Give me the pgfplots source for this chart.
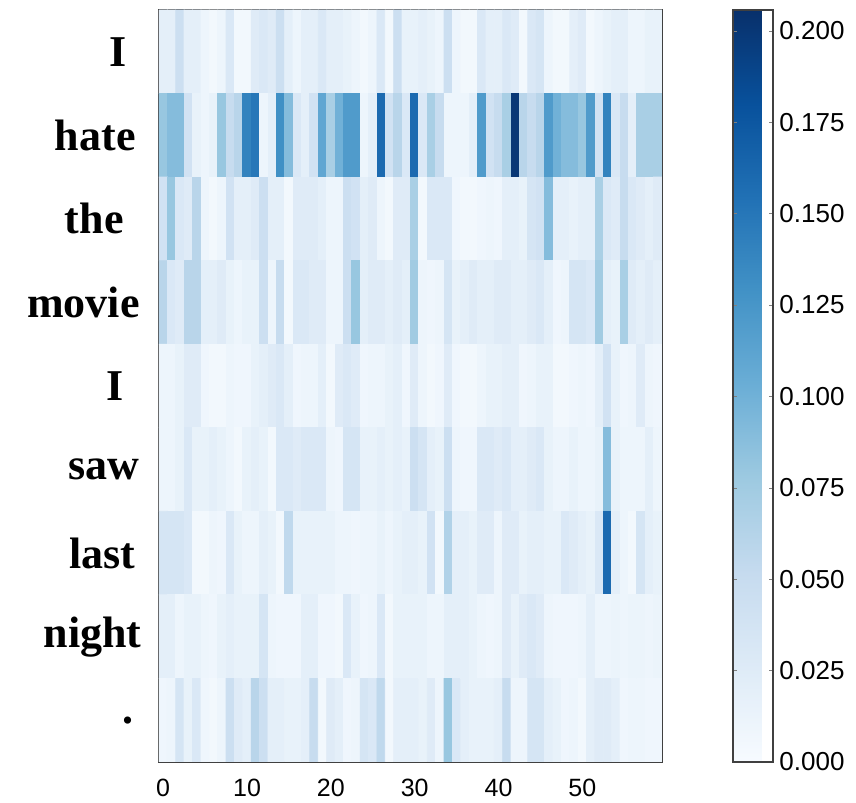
\documentclass[border=0pt]{standalone}
\usepackage{fontspec}
\setmainfont{Liberation Serif}
\newfontfamily\hv{Liberation Sans}
\usepackage{pgfplots}
\pgfplotsset{compat=1.18}
\newcommand{\gap}[1]{\rule{#1}{0pt}}
\begin{document}
\begin{tikzpicture}
\begin{axis}[
  name=main,
  scale only axis, width=251.5pt, height=376pt,
  xmin=-0.5, xmax=59.5, ymin=-0.5, ymax=8.5, y dir=reverse,
  xtick={0,10,20,30,40,50}, ytick={0,1,2,3,4,5,6,7,8},
  yticklabels={I\gap{7.5pt},hate\gap{3pt},the\gap{9pt},movie\gap{1pt},I\gap{9pt},saw\gap{1pt},last\gap{3pt},night,.\gap{4pt}},
  yticklabel style={font=\fontsize{22}{22}\selectfont\bfseries, inner sep=0pt, xshift=-8.5pt},
  xticklabel style={font=\hv\fontsize{12.5}{12.5}\selectfont, /pgf/number format/assume math mode=true, yshift=-5pt},
  tick align=inside, major tick length=3pt, tick style={black!50},
  ytick style={draw=none},
  axis line style={black!75, line width=1pt},
  colormap={blues}{rgb255=(247,251,255) rgb255=(222,235,247) rgb255=(198,219,239) rgb255=(158,202,225) rgb255=(107,174,214) rgb255=(66,146,198) rgb255=(33,113,181) rgb255=(8,81,156) rgb255=(8,48,107)},
  point meta min=0, point meta max=0.2057,
  colorbar,
  colorbar style={at={(parent axis.north east)}, anchor=north west, xshift=27pt, width=20pt,
    ytick={0,0.025,0.05,0.075,0.1,0.125,0.15,0.175,0.2},
    axis line style={black!75, line width=0.8pt},
    major tick length=2pt, tick style={black!50, draw=black!50},
    yticklabel style={font=\hv\fontsize{13}{13}\selectfont, xshift=0pt, inner sep=3pt, /pgf/number format/.cd, fixed, fixed zerofill, precision=3, assume math mode=true}},
]
\addplot[matrix plot*, mesh/cols=60, point meta=explicit] table[header=false, row sep=\\, x expr={\coordindex-60*floor((\coordindex+0.5)/60)}, y expr={floor((\coordindex+0.5)/60)}, meta index=0] {
0.02\\0.02\\0.045\\0.02\\0.02\\0.01\\0.005\\0.01\\0.03\\0.005\\0.005\\0.025\\0.03\\0.025\\0.045\\0.02\\0.01\\0.02\\0.02\\0.03\\0.02\\0.02\\0.015\\0.01\\0.005\\0.01\\0.03\\0.005\\0.045\\0.015\\0.015\\0.02\\0.015\\0.01\\0.045\\0.01\\0.005\\0.005\\0.03\\0.02\\0.02\\0.03\\0.025\\0.005\\0.03\\0.035\\0.01\\0.005\\0.005\\0.02\\0.025\\0.005\\0.01\\0.015\\0.02\\0.02\\0.01\\0.01\\0.015\\0.015\\
0.08\\0.09\\0.09\\0.04\\0.015\\0.01\\0.015\\0.08\\0.05\\0.06\\0.14\\0.15\\0.01\\0.02\\0.13\\0.09\\0.03\\0.02\\0.04\\0.11\\0.07\\0.1\\0.12\\0.12\\0.01\\0.02\\0.16\\0.04\\0.06\\0.03\\0.16\\0.03\\0.07\\0.05\\0.01\\0.01\\0.01\\0.02\\0.12\\0.04\\0.05\\0.07\\0.2\\0.06\\0.05\\0.06\\0.12\\0.1\\0.09\\0.09\\0.08\\0.12\\0.04\\0.14\\0.03\\0.05\\0.02\\0.07\\0.07\\0.07\\
0.04\\0.08\\0.03\\0.025\\0.06\\0.01\\0.005\\0.01\\0.04\\0.02\\0.02\\0.025\\0.045\\0.02\\0.02\\0.005\\0.025\\0.025\\0.025\\0.02\\0.01\\0.01\\0.045\\0.04\\0.02\\0.025\\0.01\\0.005\\0.025\\0.025\\0.07\\0.005\\0.03\\0.03\\0.03\\0.008\\0.005\\0.005\\0.008\\0.01\\0.008\\0.02\\0.02\\0.015\\0.035\\0.04\\0.09\\0.02\\0.02\\0.015\\0.02\\0.02\\0.07\\0.03\\0.025\\0.05\\0.03\\0.025\\0.02\\0.025\\
0.06\\0.03\\0.025\\0.06\\0.06\\0.02\\0.02\\0.025\\0.015\\0.01\\0.015\\0.015\\0.045\\0.01\\0.05\\0.005\\0.03\\0.03\\0.025\\0.025\\0.01\\0.01\\0.045\\0.08\\0.02\\0.025\\0.025\\0.02\\0.025\\0.02\\0.075\\0.01\\0.008\\0.01\\0.035\\0.015\\0.02\\0.025\\0.02\\0.02\\0.025\\0.025\\0.02\\0.02\\0.025\\0.03\\0.02\\0.008\\0.01\\0.035\\0.035\\0.03\\0.075\\0.02\\0.015\\0.07\\0.025\\0.02\\0.025\\0.02\\
0.01\\0.01\\0.015\\0.025\\0.025\\0.008\\0.005\\0.005\\0.01\\0.008\\0.008\\0.015\\0.02\\0.025\\0.03\\0.02\\0.008\\0.01\\0.01\\0.02\\0.005\\0.025\\0.03\\0.025\\0.008\\0.01\\0.01\\0.015\\0.02\\0.008\\0.025\\0.01\\0.005\\0.008\\0.025\\0.008\\0.005\\0.005\\0.01\\0.015\\0.015\\0.02\\0.02\\0.008\\0.01\\0.015\\0.015\\0.005\\0.005\\0.008\\0.01\\0.008\\0.02\\0.04\\0.015\\0.008\\0.01\\0.025\\0.01\\0.008\\
0.01\\0.01\\0.015\\0.03\\0.015\\0.015\\0.02\\0.015\\0.01\\0.005\\0.015\\0.02\\0.015\\0.005\\0.03\\0.03\\0.025\\0.03\\0.03\\0.03\\0.01\\0.008\\0.035\\0.035\\0.015\\0.015\\0.02\\0.015\\0.02\\0.015\\0.045\\0.035\\0.02\\0.015\\0.045\\0.01\\0.008\\0.008\\0.03\\0.03\\0.025\\0.03\\0.02\\0.02\\0.025\\0.03\\0.015\\0.01\\0.01\\0.015\\0.01\\0.01\\0.015\\0.09\\0.015\\0.01\\0.01\\0.01\\0.02\\0.01\\
0.035\\0.035\\0.035\\0.03\\0.005\\0.005\\0.01\\0.008\\0.03\\0.015\\0.01\\0.01\\0.02\\0.015\\0.005\\0.055\\0.015\\0.015\\0.015\\0.015\\0.015\\0.01\\0.01\\0.008\\0.01\\0.01\\0.015\\0.01\\0.015\\0.02\\0.02\\0.015\\0.04\\0.005\\0.065\\0.02\\0.02\\0.015\\0.025\\0.025\\0.01\\0.025\\0.025\\0.015\\0.02\\0.02\\0.015\\0.015\\0.03\\0.025\\0.02\\0.015\\0.03\\0.16\\0.02\\0.01\\0.005\\0.035\\0.02\\0.015\\
0.02\\0.02\\0.01\\0.015\\0.015\\0.01\\0.008\\0.015\\0.02\\0.015\\0.015\\0.015\\0.035\\0.01\\0.008\\0.008\\0.008\\0.02\\0.02\\0.008\\0.008\\0.005\\0.03\\0.015\\0.008\\0.01\\0.03\\0.005\\0.015\\0.015\\0.015\\0.015\\0.01\\0.01\\0.02\\0.02\\0.02\\0.015\\0.01\\0.008\\0.01\\0.025\\0.015\\0.025\\0.03\\0.025\\0.01\\0.008\\0.008\\0.008\\0.01\\0.02\\0.01\\0.01\\0.012\\0.01\\0.012\\0.012\\0.01\\0.012\\
0.008\\0.01\\0.035\\0.015\\0.03\\0.008\\0.005\\0.01\\0.045\\0.025\\0.02\\0.06\\0.045\\0.02\\0.02\\0.015\\0.015\\0.02\\0.05\\0.005\\0.025\\0.02\\0.008\\0.01\\0.035\\0.03\\0.055\\0.005\\0.02\\0.02\\0.02\\0.015\\0.025\\0.01\\0.08\\0.03\\0.02\\0.015\\0.015\\0.015\\0.02\\0.05\\0.01\\0.01\\0.035\\0.035\\0.02\\0.015\\0.008\\0.01\\0.005\\0.02\\0.025\\0.025\\0.02\\0.008\\0.01\\0.01\\0.008\\0.008\\
};
\end{axis}
\path (main.south west) ++(-79.5pt,-20.5pt) coordinate (bl);
\path (main.north east) ++(97pt,5pt) coordinate (tr);
\pgfresetboundingbox
\path[use as bounding box] (bl) rectangle (tr);
\end{tikzpicture}
\end{document}
